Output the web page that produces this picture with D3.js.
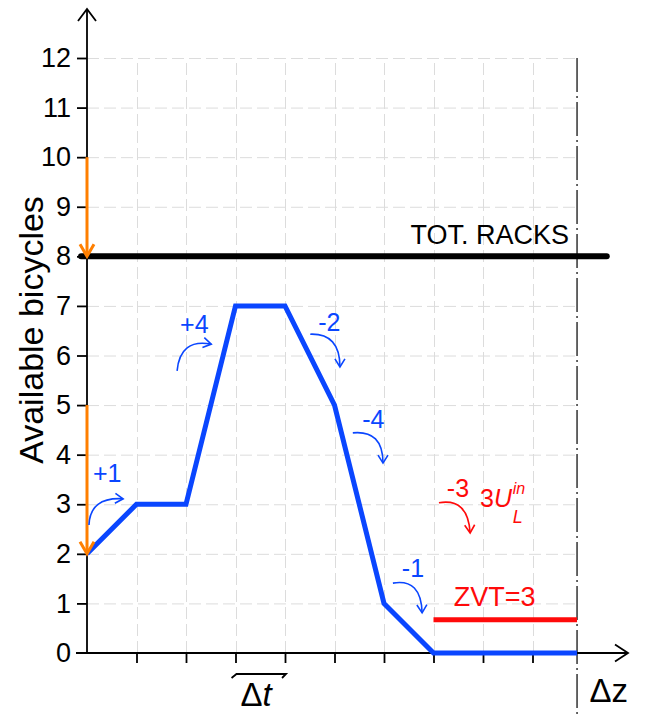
<!DOCTYPE html>
<html>
<head>
<meta charset="utf-8">
<script src="https://cdn.jsdelivr.net/npm/d3@7"></script>
<style>
  html, body { margin: 0; padding: 0; background: #fff; }
  svg { display: block; font-family: "Liberation Sans", Arial, sans-serif; }
</style>
</head>
<body>
<svg id="chart" width="649" height="717"></svg>
<script>
// ---------- data ----------
const xTicks = [1, 2, 3, 4, 5, 6, 7, 8, 9];
const yTicks = [0, 1, 2, 3, 4, 5, 6, 7, 8, 9, 10, 11, 12];
const bikesX = [0, 1, 2, 3, 4, 5, 6, 7, 9.9];
const bikesY = [2, 3, 3, 7, 7, 5, 1, 0, 0];
const racksLevel = 8;
const racksSpan = [-0.12, 10.5];
const zvtLevel = 0.67;
const zvtSpan = [7, 9.9];
const horizonX = 9.9;
const orangeFrom = [10, 5];
const orangeTo = [8, 2];
const changeLabels = ["+1", "+4", "-2", "-4", "-1", "-3"];
const changeColors = ["blue", "blue", "blue", "blue", "blue", "red"];
// label anchor (data units) and arc start/control/end (data units)
const labelX = [0.12, 1.88, 4.67, 5.56, 6.36, 7.27];
const labelY = [3.45, 6.45, 6.49, 4.54, 1.53, 3.15];
const arcStart = [[0.04, 2.58], [1.82, 5.69], [4.51, 6.43], [5.37, 4.44], [6.18, 1.41], [7.11, 3.03]];
const arcCtrl  = [[0.06, 3.15], [1.88, 6.35], [5.11, 6.45], [5.98, 4.50], [6.75, 1.51], [7.70, 3.13]];
const arcEnd   = [[0.73, 3.11], [2.51, 6.23], [5.11, 5.77], [5.98, 3.83], [6.77, 0.81], [7.74, 2.42]];

const BLUE = "#0a46ff", RED = "#ff0a0a", ORANGE = "#ff7f00";
const colorOf = c => c === "red" ? RED : BLUE;

// ---------- scales ----------
const x = d3.scaleLinear().domain([0, 9]).range([87, 532.5]);
const y = d3.scaleLinear().domain([0, 12]).range([653, 58]);

const svg = d3.select("#chart");

// ---------- grid ----------
const grid = svg.append("g").attr("stroke", "#dcdcdc").attr("stroke-width", 1)
  .attr("stroke-dasharray", "12,5");
grid.selectAll("line.h").data(yTicks.filter(d => d > 0)).enter().append("line")
  .attr("x1", x(0)).attr("x2", x(horizonX))
  .attr("y1", d => y(d) + 0.5).attr("y2", d => y(d) + 0.5);
grid.selectAll("line.v").data(xTicks).enter().append("line")
  .attr("x1", d => Math.round(x(d)) + 0.5).attr("x2", d => Math.round(x(d)) + 0.5)
  .attr("y1", y(0)).attr("y2", y(12));

// ---------- horizon dash-dot line ----------
svg.append("line")
  .attr("x1", x(horizonX)).attr("x2", x(horizonX))
  .attr("y1", y(12)).attr("y2", 717)
  .attr("stroke", "#333").attr("stroke-width", 1.5)
  .attr("stroke-dasharray", "34,4,2,4");

// ---------- axes ----------
const axisG = svg.append("g").attr("stroke", "#000").attr("stroke-width", 1.8).attr("fill", "none");
axisG.append("line").attr("x1", x(0)).attr("x2", x(0)).attr("y1", y(0)).attr("y2", 9);
axisG.append("path").attr("d", `M${x(0) - 9},21 L${x(0)},9 L${x(0) + 9},21`);
axisG.append("line").attr("x1", x(0) - 11).attr("x2", 628).attr("y1", y(0)).attr("y2", y(0));
axisG.append("path").attr("d", `M615,${y(0) - 8.5} L628,${y(0)} L615,${y(0) + 8.5}`);

// y ticks
const yAxis = d3.axisLeft(y).tickValues(yTicks).tickSize(10).tickPadding(6).tickFormat(d3.format("d"));
const yg = svg.append("g").attr("transform", `translate(${x(0)},0)`).call(yAxis);
yg.select(".domain").remove();
yg.selectAll(".tick line").attr("stroke", "#000").attr("stroke-width", 1.8)
  .attr("display", d => d === 0 ? "none" : null);
yg.selectAll(".tick text").attr("font-size", 27).attr("fill", "#000")
  .attr("font-family", "Liberation Sans, Arial, sans-serif");

// x ticks (no labels)
const xAxis = d3.axisBottom(x).tickValues(xTicks).tickSize(10).tickFormat("");
const xg = svg.append("g").attr("transform", `translate(0,${y(0)})`).call(xAxis);
xg.select(".domain").remove();
xg.selectAll(".tick line").attr("stroke", "#000").attr("stroke-width", 1.8);

// y label
svg.append("text")
  .attr("transform", `translate(43,330) rotate(-90)`)
  .attr("text-anchor", "middle")
  .attr("font-size", 34)
  .attr("fill", "#000")
  .text("Available bicycles");

// ---------- total racks line ----------
svg.append("line")
  .attr("x1", x(racksSpan[0])).attr("x2", x(racksSpan[1]))
  .attr("y1", y(racksLevel)).attr("y2", y(racksLevel))
  .attr("stroke", "#000").attr("stroke-width", 6).attr("stroke-linecap", "round");
svg.append("text")
  .attr("x", x(9.74)).attr("y", y(8.25))
  .attr("text-anchor", "end").attr("font-size", 27).attr("fill", "#000")
  .text("TOT. RACKS");

// ---------- ZVT line ----------
svg.append("line")
  .attr("x1", x(zvtSpan[0])).attr("x2", x(zvtSpan[1]))
  .attr("y1", y(zvtLevel)).attr("y2", y(zvtLevel))
  .attr("stroke", RED).attr("stroke-width", 5);
svg.append("text")
  .attr("x", x(7.41)).attr("y", y(0.95))
  .attr("font-size", 27).attr("fill", RED)
  .text("ZVT=3");

// ---------- available bikes line ----------
const line = d3.line().x(d => x(d[0])).y(d => y(d[1]));
svg.append("path")
  .datum(bikesX.map((v, i) => [v, bikesY[i]]))
  .attr("d", line)
  .attr("fill", "none").attr("stroke", BLUE).attr("stroke-width", 5)
  .attr("stroke-linejoin", "miter");

// ---------- orange arrows ----------
const og = svg.append("g").attr("stroke", ORANGE).attr("stroke-width", 3).attr("fill", "none");
orangeFrom.forEach((f, i) => {
  const t = orangeTo[i];
  og.append("line").attr("x1", x(0)).attr("x2", x(0)).attr("y1", y(f)).attr("y2", y(t) - 1);
  og.append("path").attr("d", `M${x(0) - 7},${y(t) - 12} L${x(0)},${y(t)} L${x(0) + 7},${y(t) - 12}`)
    .attr("stroke-linejoin", "miter");
});

// ---------- change annotations ----------
const defs = svg.append("defs");
["blue", "red"].forEach(c => {
  defs.append("marker")
    .attr("id", "arr-" + c)
    .attr("viewBox", "-10 -6 12 12")
    .attr("refX", 0).attr("refY", 0)
    .attr("markerWidth", 12).attr("markerHeight", 12)
    .attr("markerUnits", "userSpaceOnUse")
    .attr("orient", "auto")
    .append("path").attr("d", "M-8,-5 L0,0 L-8,5")
    .attr("fill", "none").attr("stroke", colorOf(c)).attr("stroke-width", 1.6);
});
changeLabels.forEach((lab, i) => {
  const col = colorOf(changeColors[i]);
  svg.append("path")
    .attr("d", `M${x(arcStart[i][0])},${y(arcStart[i][1])} Q${x(arcCtrl[i][0])},${y(arcCtrl[i][1])} ${x(arcEnd[i][0])},${y(arcEnd[i][1])}`)
    .attr("fill", "none").attr("stroke", col).attr("stroke-width", 1.6)
    .attr("marker-end", `url(#arr-${changeColors[i]})`);
  svg.append("text")
    .attr("x", x(labelX[i])).attr("y", y(labelY[i]))
    .attr("font-size", 25).attr("fill", col)
    .text(lab);
});

// 3 U_L^in
svg.append("text").attr("x", x(7.94)).attr("y", y(2.94)).attr("font-size", 25).attr("fill", RED)
  .call(t => {
    t.append("tspan").text("3");
    t.append("tspan").attr("font-style", "italic").text("U");
  });
svg.append("text").attr("x", x(8.6)).attr("y", y(3.2)).attr("font-size", 16)
  .attr("font-style", "italic").attr("fill", RED).text("in");
svg.append("text").attr("x", x(8.6)).attr("y", y(2.63)).attr("font-size", 18)
  .attr("font-style", "italic").attr("fill", RED).text("L");

// ---------- Δt bracket and labels ----------
const bg = svg.append("g").attr("stroke", "#000").attr("stroke-width", 1.8).attr("fill", "none");
bg.append("path").attr("d", `M${x(2.92)},678 L${x(3.02)},674 L${x(4.02)},674 L${x(3.94)},678`);
svg.append("text").attr("x", x(3.1)).attr("y", 706).attr("font-size", 33).attr("fill", "#000")
  .call(t => {
    t.append("tspan").text("Δ");
    t.append("tspan").attr("font-style", "italic").text("t");
  });
svg.append("text").attr("x", x(10.15)).attr("y", 702).attr("font-size", 33).attr("fill", "#000")
  .text("Δz");
</script>
</body>
</html>
